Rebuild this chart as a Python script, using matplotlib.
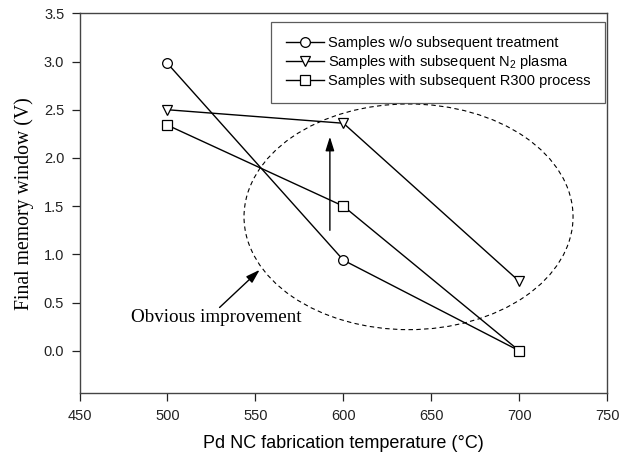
import matplotlib
matplotlib.use("Agg")
import matplotlib.pyplot as plt
from matplotlib.patches import Ellipse
import numpy as np

plt.rcParams['font.family'] = ['Liberation Sans', 'DejaVu Sans']
plt.rcParams['mathtext.fontset'] = 'custom'
plt.rcParams['mathtext.rm'] = 'Liberation Sans'
plt.rcParams['mathtext.it'] = 'Liberation Sans:italic'

temps = [500, 600, 700]
no_treatment = [2.98, 0.94, 0.0]
n2_plasma = [2.50, 2.36, 0.72]
r300 = [2.34, 1.50, 0.0]
labels = ["Samples w/o subsequent treatment",
          "Samples with subsequent N$_2$ plasma",
          "Samples with subsequent R300 process"]
xticks = [450, 500, 550, 600, 650, 700, 750]
yticks = [0.0, 0.5, 1.0, 1.5, 2.0, 2.5, 3.0, 3.5]

fig = plt.figure(figsize=(6.32, 4.63), dpi=100)
ax = fig.add_axes([0.1258, 0.1505, 0.961 - 0.1258, 0.9713 - 0.1505])

mk = dict(color='black', lw=1.0, markerfacecolor='white', markeredgecolor='black',
          markeredgewidth=0.9, markersize=7)
ax.plot(temps, no_treatment, marker='o', label=labels[0], **mk)
ax.plot(temps, n2_plasma, marker='v', label=labels[1], **mk)
ax.plot(temps, r300, marker='s', label=labels[2], **{**mk, 'markersize': 6.5})

ell = Ellipse((637, 1.39), 187, 2.34, fill=False, ls=(0, (4, 3)), lw=0.8, color='black')
ax.add_patch(ell)

ax.annotate('', xy=(592.3, 2.22), xytext=(592.3, 1.25),
            arrowprops=dict(arrowstyle='-|>,head_length=0.7,head_width=0.22', color='black',
                            lw=1.0, mutation_scale=12, shrinkA=0, shrinkB=0))
ax.annotate('', xy=(552.4, 0.84), xytext=(529.6, 0.45),
            arrowprops=dict(arrowstyle='-|>,head_length=0.7,head_width=0.22', color='black',
                            lw=1.0, mutation_scale=12, shrinkA=0, shrinkB=0))
ax.text(527.7, 0.35, 'Obvious improvement', family='Liberation Serif', fontsize=13.7,
        ha='center', va='center')

ax.set_xlim(450, 750)
ax.set_ylim(-0.44, 3.5)
ax.set_xticks(xticks)
ax.set_yticks(yticks)
ax.set_yticklabels([f"{v:.1f}" for v in yticks])
ax.tick_params(direction='out', length=6, width=0.9, labelsize=10.5, colors='#222222',
               pad=5)
for s in ax.spines.values():
    s.set_color('#444444')
    s.set_linewidth(1.0)

ax.set_xlabel('Pd NC fabrication temperature (°C)', fontsize=13, labelpad=9)
ax.set_ylabel('Final memory window (V)', family='Liberation Serif', fontsize=14.2, labelpad=7)

leg = ax.legend(loc='upper right', bbox_to_anchor=(0.9955, 0.9775), fontsize=10.5,
                handlelength=2.6, frameon=True, fancybox=False, borderpad=1.0,
                labelspacing=0.2, handletextpad=0.3, borderaxespad=0)
leg.get_frame().set_edgecolor('#333333')
leg.get_frame().set_linewidth(0.9)

fig.savefig('out.png', dpi=100)
